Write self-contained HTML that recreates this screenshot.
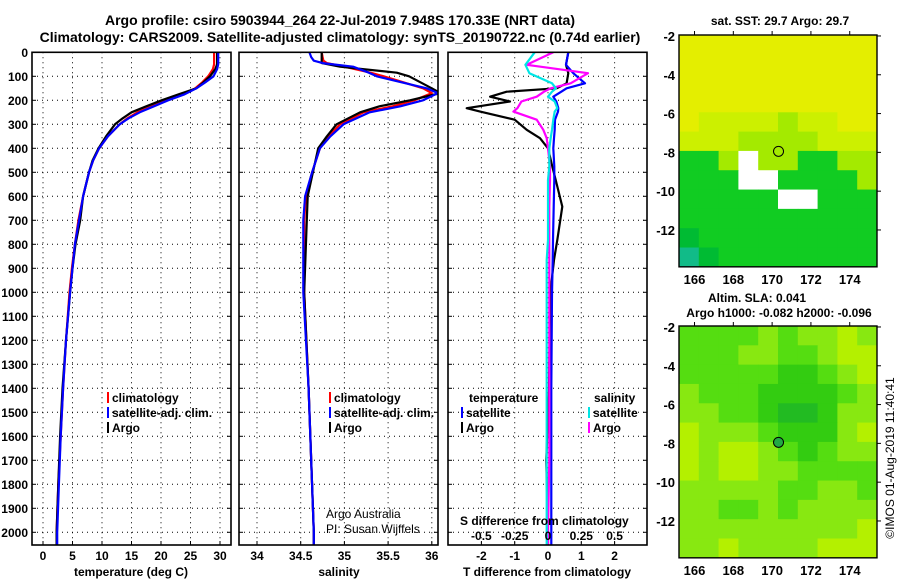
<!DOCTYPE html>
<html><head><meta charset="utf-8">
<style>
html,body{margin:0;padding:0;background:#fff;}
svg{display:block;font-family:"Liberation Sans",sans-serif;}
.b{font-weight:bold;}
</style></head>
<body>
<svg id="chart" width="900" height="580" viewBox="0 0 900 580">
<text x="340" y="25" text-anchor="middle" class="b" font-size="14">Argo profile: csiro 5903944_264 22-Jul-2019 7.948S 170.33E (NRT data)</text>
<text x="340" y="42" text-anchor="middle" class="b" font-size="14">Climatology: CARS2009. Satellite-adjusted climatology: synTS_20190722.nc (0.74d earlier)</text>
<g id="layer"></g>
</svg>
<script>
// ---- data ----
const tDepth=[0,50,70,100,125,150,175,200,225,250,275,300,350,400,450,500,600,700,800,900,1000,1200,1400,1600,1800,2000,2060];
const tClim=[29.0,29.0,28.8,28.0,27.0,25.8,23.8,21.0,18.5,16.0,14.3,13.0,11.0,9.5,8.5,7.8,6.8,6.0,5.4,4.9,4.5,3.9,3.4,3.0,2.6,2.3,2.3];
const tSat=[29.7,29.7,29.5,28.9,27.5,26.0,24.0,21.2,18.8,16.4,14.5,13.0,11.0,9.5,8.5,7.8,6.8,6.1,5.4,5.0,4.6,3.9,3.4,3.0,2.7,2.4,2.4];
const tArgo=[29.5,29.5,29.2,28.3,27.2,26.0,23.0,20.1,17.5,15.0,13.5,12.2,10.7,9.4,8.4,7.8,6.8,6.3,5.5,5.0,4.6,3.9,3.3,2.9,2.6,2.3,2.3];
const sDepth=[0,20,35,45,60,85,100,150,170,200,225,250,300,350,400,500,600,700,1000,1400,2000,2060];
const sClim=[34.74,34.75,34.76,34.8,35.0,35.3,35.45,35.9,36.0,35.8,35.55,35.22,34.95,34.82,34.72,34.63,34.56,34.54,34.54,34.59,34.65,34.65];
const sSat=[34.6,34.62,34.65,34.75,35.1,35.28,35.37,35.94,36.07,35.9,35.64,35.29,34.99,34.84,34.72,34.63,34.55,34.53,34.53,34.59,34.65,34.65];
const sArgo=[34.74,34.74,34.74,34.74,34.95,35.6,35.74,36.0,36.1,35.75,35.4,35.18,34.91,34.8,34.7,34.64,34.58,34.57,34.54,34.59,34.65,34.65];
const dDepth=[0,52,87,129,150,164,185,205,233,247,281,323,358,400,476,532,643,782,865,1004,1400,1700,2000,2060];
const dTArgo=[0.61,0.54,0.61,0.56,0.26,-1.24,-1.74,-1.14,-2.44,-2.04,-1.0,-0.64,-0.24,0.0,0.13,0.23,0.43,0.28,0.18,0.07,0.03,-0.05,0.0,0.0];
const dTSat=[0.61,0.54,0.76,1.11,0.56,0.4,0.16,0.25,0.31,0.3,0.21,0.2,0.18,0.16,0.19,0.19,0.17,0.15,0.14,0.12,0.1,0.1,0.1,0.1];
const dSArgo=[0.04,-0.16,0.3,0.17,0.02,-0.03,-0.085,-0.2,-0.23,-0.26,-0.085,-0.035,-0.01,0.0,0.015,0.015,0.01,0.01,0.01,0.01,0.01,0.01,0.0,0.0];
const dSSat=[-0.1,-0.17,-0.14,0.03,0.06,0.03,0.0,0.05,0.07,0.05,0.04,0.03,0.02,0.01,0.01,0.0,0.0,0.0,-0.01,-0.01,-0.01,-0.01,-0.01,-0.01];
const depthTicks=[0,100,200,300,400,500,600,700,800,900,1000,1100,1200,1300,1400,1500,1600,1700,1800,1900,2000];
const tTicks=[0,5,10,15,20,25,30];
const sTicks=[34,34.5,35,35.5,36];
const sTickLabels=["34","34.5","35","35.5","36"];
const dTTicks=[-2,-1,0,1,2];
const dSTicks=[-0.5,-0.25,0,0.25,0.5];
const dSTickLabels=["-0.5","-0.25","0","0.25","0.5"];
const latTicks=[-2,-4,-6,-8,-10,-12];
const lonTicks=[166,168,170,172,174];
const sstRows=["YYYYYYYYYY","YYYYYYYYYY","YYYYYYYYYY","YYYYYYYYYY","YyyyyLyyYY","yyyLLLLyyy","GGLWLLGGLL","GGGWWGGGGL","GGGGGWWGGG","GGGGGGGGGG","gGGGGGGGGG","TgGGGGGGGG"];
const slaRows=["MMMMLMLLYL","MMMLLMMLYY","MMMMMDDMLY","LMMMDDDDML","LLMMDEEDLL","YLLLMDDDLY","YLYYLMDMLL","YLYYLLMMMM","LLLLLMMLLM","LLMMLMLLLL","LLLLLLLLLY","LLYLLLLYYY"];
const argoLon=170.33, argoLat=-7.948;

// ---- helpers ----
const NS="http://www.w3.org/2000/svg";
const layer=document.getElementById('layer');
function mk(tag,attrs,parent){const e=document.createElementNS(NS,tag);for(const k in attrs)e.setAttribute(k,attrs[k]);(parent||layer).appendChild(e);return e;}
function txt(x,y,s,size,anchor,bold,parent){const e=mk('text',{x:x,y:y,'font-size':size,'text-anchor':anchor||'start','font-weight':bold?'bold':'normal'},parent);e.textContent=s;return e;}
const Y0=52.3, YS=0.24, YB=545;
const yD=d=>Y0+d*YS;
const panels=[
 {x0:32,x1:231,name:'temperature-panel',xs:v=>43+v*5.9},
 {x0:239,x1:438,name:'salinity-panel',xs:v=>257+(v-34)*87.4},
 {x0:448,x1:647,name:'difference-panel',xs:v=>548+v*33.3,xs2:v=>548+v*133.2}
];
function line(xs,depth,vals,color,name,g){
 let p='';vals.forEach((v,i)=>{p+=(i?'L':'M')+xs(v).toFixed(1)+','+yD(depth[i]).toFixed(1);});
 const e=mk('path',{d:p,fill:'none',stroke:color,'stroke-width':2.2,'stroke-linejoin':'round'},g);
 
 
}
const yAxis=mk('g',{});


depthTicks.forEach(d=>{txt(28,yD(d)+4.5,String(d),12,'end',true,yAxis);});
panels.forEach((P,pi)=>{
 const g=mk('g',{});
 
 
 const clip=mk('clipPath',{id:'c'+pi},g);mk('rect',{x:P.x0,y:Y0,width:P.x1-P.x0,height:YB-Y0},clip);
 const grid=mk('g',{stroke:'#000','stroke-width':1,'stroke-dasharray':'1,4'},g);
 
 
 depthTicks.forEach(d=>{if(d>0)mk('line',{x1:P.x0,x2:P.x1,y1:yD(d),y2:yD(d)},grid);});
 const ticks=pi==0?tTicks:pi==1?sTicks:dTTicks;
 ticks.forEach(v=>mk('line',{x1:P.xs(v),x2:P.xs(v),y1:Y0,y2:YB},grid));
 depthTicks.forEach(d=>{mk('line',{x1:P.x0,x2:P.x0+4,y1:yD(d),y2:yD(d),stroke:'#000'},g);mk('line',{x1:P.x1,x2:P.x1-4,y1:yD(d),y2:yD(d),stroke:'#000'},g);});
 ticks.forEach((v,i)=>{
  mk('line',{x1:P.xs(v),x2:P.xs(v),y1:YB,y2:YB-4,stroke:'#000'},g);
  const lab=pi==1?sTickLabels[i]:String(v);
  txt(P.xs(v),560,lab,12,'middle',true,g);
 });
 const lg=mk('g',{'clip-path':'url(#c'+pi+')'},g);
 if(pi==0){line(P.xs,tDepth,tClim,'#ff0000','temp-climatology-line',lg);line(P.xs,tDepth,tArgo,'#000','temp-argo-line',lg);line(P.xs,tDepth,tSat,'#0000ff','temp-satellite-line',lg);}
 if(pi==1){line(P.xs,sDepth,sClim,'#ff0000','sal-climatology-line',lg);line(P.xs,sDepth,sArgo,'#000','sal-argo-line',lg);line(P.xs,sDepth,sSat,'#0000ff','sal-satellite-line',lg);}
 if(pi==2){line(P.xs,dDepth,dTArgo,'#000','tdiff-argo-line',lg);line(P.xs,dDepth,dTSat,'#0000ff','tdiff-satellite-line',lg);line(P.xs2,dDepth,dSArgo,'#ff00ff','sdiff-argo-line',lg);line(P.xs2,dDepth,dSSat,'#00e5e5','sdiff-satellite-line',lg);}
 mk('rect',{x:P.x0,y:Y0,width:P.x1-P.x0,height:YB-Y0,fill:'none',stroke:'#000','stroke-width':1.6},g);
});
[['temperature (deg C)',131,'temp-axis-title'],['salinity',339,'salinity-axis-title'],['T difference from climatology',547,'tdiff-axis-title']].forEach(a=>{const t=txt(a[1],576,a[0],12,'middle',true);});
function legendEntry(x,y,color,label,name){const g=mk('g',{});mk('line',{x1:x,x2:x,y1:y-10,y2:y+1,stroke:color,'stroke-width':2},g);txt(x+4,y,label,12,'start',true,g);}
legendEntry(108,402,'#ff0000','climatology','legend-t-climatology');
legendEntry(108,417,'#0000ff','satellite-adj. clim.','legend-t-satellite');
legendEntry(108,432,'#000','Argo','legend-t-argo');
legendEntry(330,402,'#ff0000','climatology','legend-s-climatology');
legendEntry(330,417,'#0000ff','satellite-adj. clim.','legend-s-satellite');
legendEntry(330,432,'#000','Argo','legend-s-argo');
txt(469,402,'temperature',12,'start',true);
txt(594,402,'salinity',12,'start',true);
legendEntry(462,417,'#0000ff','satellite','legend-tdiff-satellite');
legendEntry(462,432,'#000','Argo','legend-tdiff-argo');
legendEntry(589,417,'#00e5e5','satellite','legend-sdiff-satellite');
legendEntry(589,432,'#ff00ff','Argo','legend-sdiff-argo');
txt(460,525,'S difference from climatology',12,'start',true);
dSTicks.forEach((v,i)=>txt(panels[2].xs2(v),540,dSTickLabels[i],12,'middle',true));
txt(326,518,'Argo Australia',12,'start',false);
txt(326,533,'PI: Susan Wijffels',12,'start',false);
const MX0=679,MX1=877,LON0=165.2,LAT0=-1.95,DEG=19.4;
const sstCol={Y:'#e4ee00',y:'#ccf000',L:'#a4ea00',G:'#11cc22',g:'#00bb33',W:'#ffffff',T:'#11bb88'};
const slaCol={M:'#55dd11',L:'#88e811',Y:'#b4f000',D:'#33cc11',E:'#22bb22'};
function drawMap(top,rows,cols,name){
 const g=mk('g',{});
 
 
 const lonX=l=>MX0+(l-LON0)*DEG, latY=l=>top+(LAT0-l)*DEG;
 const bottom=latY(-13.9);
 const clip=mk('clipPath',{id:'cl'+name},g);mk('rect',{x:MX0,y:top,width:MX1-MX0,height:bottom-top},clip);
 const cg=mk('g',{'clip-path':'url(#cl'+name+')'},g);
 const cw=(MX1-MX0)/rows[0].length, ch=(bottom-top)/rows.length;
 rows.forEach((r,ri)=>{for(let ci=0;ci<r.length;ci++){const c=mk('rect',{x:MX0+ci*cw,y:top+ri*ch,width:cw+0.5,height:ch+0.5,fill:cols[r[ci]]},cg);}});
 const dot=mk('circle',{cx:lonX(argoLon),cy:latY(argoLat),r:5,fill:name=='sla-map'?'#22aa44':'none',stroke:'#000','stroke-width':1},g);
 
 
 mk('rect',{x:MX0,y:top,width:MX1-MX0,height:bottom-top,fill:'none',stroke:'#000','stroke-width':1.4},g);
 latTicks.forEach(l=>{mk('line',{x1:MX1,x2:MX1+4,y1:latY(l),y2:latY(l),stroke:'#000'},g);txt(675,latY(l)+5,String(l),13,'end',true,g);});
 lonTicks.forEach(l=>{mk('line',{x1:lonX(l),x2:lonX(l),y1:top,y2:top-4,stroke:'#000'},g);txt(lonX(l),bottom+17,String(l),13,'middle',true,g);});
 return g;
}
drawMap(35,sstRows,sstCol,'sst-map');
drawMap(326,slaRows,slaCol,'sla-map');
txt(780,25,'sat. SST: 29.7  Argo: 29.7',12,'middle',true);
txt(757,302,'Altim. SLA: 0.041',12,'middle',true);
txt(779,317,'Argo h1000: -0.082 h2000: -0.096',12,'middle',true);
const cr=txt(0,0,'©IMOS 01-Aug-2019 11:40:41',12,'middle',false);
cr.setAttribute('transform','translate(894,458) rotate(-90)');


</script>
</body></html>
